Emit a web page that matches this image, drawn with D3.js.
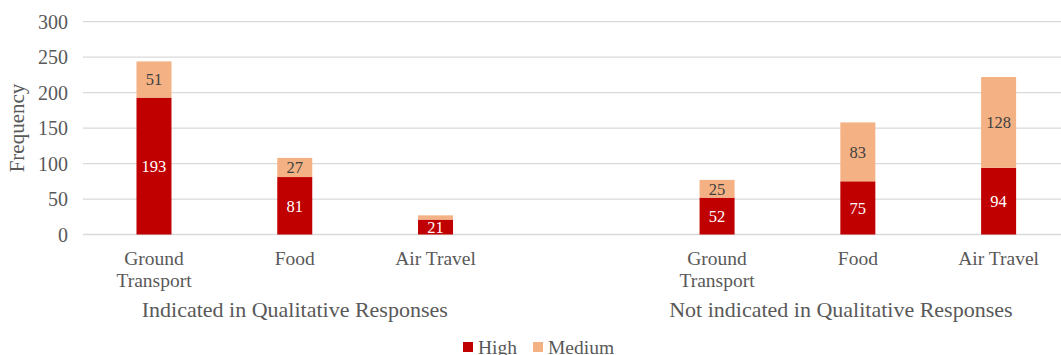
<!DOCTYPE html>
<html>
<head>
<meta charset="utf-8">
<script src="https://cdn.jsdelivr.net/npm/d3@7/dist/d3.min.js"></script>
<style>
  html, body { margin: 0; padding: 0; background: #fff; }
  svg { display: block; font-family: "Liberation Serif", "Times New Roman", serif; }
</style>
</head>
<body>
<svg id="chart" width="1061" height="355"></svg>
<script>
// Grouped category axis: two response groups, three emission categories each
const groups = ["Indicated in Qualitative Responses", "Not indicated in Qualitative Responses"];
const categories = ["Ground Transport", "Food", "Air Travel"];
const seriesNames = ["High", "Medium"];
const highValues = [193, 81, 21, 52, 75, 94];
const mediumValues = [51, 27, 6, 25, 83, 128];
const yTicks = [0, 50, 100, 150, 200, 250, 300];
const colors = { High: "#C00000", Medium: "#F4B183" };

// Flat slot list with an empty spacer slot between the two groups
const slots = [];
groups.forEach((g, gi) => {
  categories.forEach((c, ci) => slots.push({ key: gi + "-" + ci, group: gi, category: c }));
  if (gi < groups.length - 1) slots.push({ key: "gap-" + gi, spacer: true });
});
const rows = slots.filter(s => !s.spacer).map((s, i) => ({
  ...s, High: highValues[i], Medium: mediumValues[i]
}));

const W = 1061;
const svg = d3.select("#chart");
const x = d3.scaleBand().domain(slots.map(s => s.key)).range([83.6, 1069]).paddingInner(0).paddingOuter(0);
const y = d3.scaleLinear().domain([0, 300]).range([234.5, 21.7]);
const barW = 35;
const textColor = "#595959";

// Gridlines
svg.append("g").selectAll("line").data(yTicks).join("line")
  .attr("x1", 83).attr("x2", W)
  .attr("y1", d => y(d)).attr("y2", d => y(d))
  .attr("stroke", "#d9d9d9").attr("stroke-width", 1.3);

// Y axis tick labels
const yAxis = d3.axisLeft(y).tickValues(yTicks).tickSize(0).tickPadding(0);
const ya = svg.append("g").attr("transform", "translate(68,0)").call(yAxis);
ya.select(".domain").remove();
ya.selectAll("text").attr("fill", textColor).style("font-size", "20px")
  .style("font-family", "Liberation Serif, serif").attr("dy", "0.34em");

// Axis title
svg.append("text")
  .attr("transform", "translate(24,128) rotate(-90)")
  .attr("text-anchor", "middle")
  .attr("fill", textColor).style("font-size", "21px")
  .text("Frequency");

// Stacked bars
const stack = d3.stack().keys(seriesNames)(rows);
const layers = svg.append("g").selectAll("g").data(stack).join("g")
  .attr("fill", d => colors[d.key]);
layers.selectAll("rect").data(d => d).join("rect")
  .attr("x", d => x(d.data.key) + x.bandwidth() / 2 - barW / 2)
  .attr("width", barW)
  .attr("y", d => y(d[1]))
  .attr("height", d => y(d[0]) - y(d[1]));

// Data labels (omitted on segments too thin to hold text)
stack.forEach(layer => {
  svg.append("g").selectAll("text").data(layer.filter(d => y(d[0]) - y(d[1]) > 8)).join("text")
    .attr("x", d => x(d.data.key) + x.bandwidth() / 2)
    .attr("y", d => (y(d[0]) + y(d[1])) / 2)
    .attr("dy", "0.35em")
    .attr("text-anchor", "middle")
    .attr("fill", layer.key === "High" ? "#ffffff" : "#404040")
    .style("font-size", "16.5px")
    .text(d => d.data[layer.key]);
});

// Category labels (wrapped onto two lines where needed)
const catLabels = svg.append("g").selectAll("text").data(rows).join("text")
  .attr("text-anchor", "middle")
  .attr("fill", textColor).style("font-size", "19.5px")
  .attr("x", d => x(d.key) + x.bandwidth() / 2)
  .attr("y", 265);
catLabels.each(function(d) {
  const words = d.category === "Ground Transport" ? ["Ground", "Transport"] : [d.category];
  const t = d3.select(this);
  words.forEach((w, i) => t.append("tspan")
    .attr("x", x(d.key) + x.bandwidth() / 2)
    .attr("dy", i === 0 ? 0 : 22).text(w));
});

// Group labels centered beneath the visible part of each group's span
svg.append("g").selectAll("text").data(groups).join("text")
  .attr("text-anchor", "middle")
  .attr("fill", textColor).style("font-size", "22px")
  .attr("x", (g, gi) => {
    const keys = rows.filter(r => r.group === gi).map(r => r.key);
    const left = x(keys[0]) + x.bandwidth() * 0.1;
    const right = Math.min(x(keys[keys.length - 1]) + x.bandwidth() * 0.9, W - 40);
    return (left + right) / 2;
  })
  .attr("y", 317)
  .text(g => g);

// Legend
const legend = svg.append("g");
const legendItems = [{ name: "High", x: 463 }, { name: "Medium", x: 533 }];
legendItems.forEach(item => {
  legend.append("rect").attr("x", item.x).attr("y", 342).attr("width", 10).attr("height", 10)
    .attr("fill", colors[item.name]);
  legend.append("text").attr("x", item.x + 15).attr("y", 354)
    .attr("fill", textColor).style("font-size", "19.5px").text(item.name);
});
</script>
</body>
</html>
